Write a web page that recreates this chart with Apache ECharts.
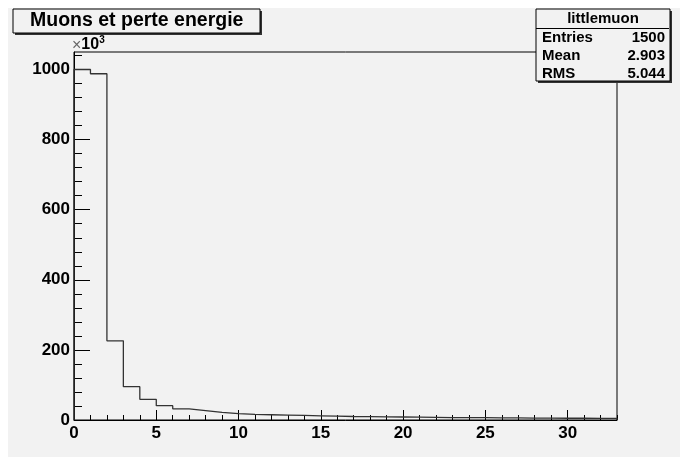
<!DOCTYPE html>
<html>
<head>
<meta charset="utf-8">
<script src="https://cdn.jsdelivr.net/npm/echarts@6/dist/echarts.min.js"></script>
<style>
html,body{margin:0;padding:0;background:#f2f2f2;}
#c{width:680px;height:457px;}
</style>
</head>
<body>
<div id="c"></div>
<script>
// Histogram "littlemuon" — bin contents in units of 10^3, bins of width 1 starting at 0
const binStart = 0;
const binWidth = 1;
const binCounts = [1000, 988, 226, 95, 59, 41, 32, 27, 22, 18, 16, 15, 14, 13, 12, 11, 10, 9.5, 9, 8.5, 8, 7.5, 7, 7, 6.5, 6, 6, 5.5, 5.5, 5, 5, 4.5, 4.5];
const xMajorTicks = [0, 5, 10, 15, 20, 25, 30];
const yMajorTicks = [0, 200, 400, 600, 800, 1000];
const xRange = [0, 33];
const yRange = [0, 1050];
const titleText = 'Muons et perte energie';
const statsName = 'littlemuon';
const statsLabels = ['Entries', 'Mean', 'RMS'];
const statsValues = ['1500', '2.903', '5.044'];

const xMinorTicks = [];
for (let v = xRange[0]; v <= xRange[1]; v += 1) xMinorTicks.push(v);
const yMinorTicks = [];
for (let v = yRange[0]; v <= yRange[1]; v += 40) yMinorTicks.push(v);

const histData = [[binStart, 0]];
binCounts.forEach((c, i) => histData.push([binStart + i * binWidth, c]));
const xEnd = binStart + binCounts.length * binWidth;
histData.push([xEnd, binCounts[binCounts.length - 1]]);
histData.push([xEnd, 0]);

const FONT = '"Liberation Sans", Arial, sans-serif';
const chart = echarts.init(document.getElementById('c'), null, {renderer: 'canvas'});

const statsGraphics = [];
statsLabels.forEach((lab, i) => {
  statsGraphics.push({type: 'text', x: 542, y: 38 + i * 18,
    style: {text: lab, font: 'bold 15px ' + FONT, fill: '#000', textAlign: 'left', textVerticalAlign: 'middle'}});
  statsGraphics.push({type: 'text', x: 665, y: 38 + i * 18,
    style: {text: statsValues[i], font: 'bold 15px ' + FONT, fill: '#000', textAlign: 'right', textVerticalAlign: 'middle'}});
});

chart.setOption({
  animation: false,
  backgroundColor: '#f2f2f2',
  grid: {left: 74, top: 52, right: 63, bottom: 37, show: true, borderColor: '#000', borderWidth: 1, backgroundColor: 'transparent'},
  xAxis: [
    {type: 'value', min: xRange[0], max: xRange[1], position: 'bottom',
     axisLine: {show: true, lineStyle: {color: '#000', width: 1}},
     axisTick: {show: true, inside: true, length: 10, customValues: xMajorTicks, lineStyle: {color: '#000'}},
     axisLabel: {show: true, customValues: xMajorTicks, margin: 5, color: '#000', fontSize: 17, fontWeight: 'bold', fontFamily: FONT, formatter: v => String(v)},
     splitLine: {show: false}},
    {type: 'value', min: xRange[0], max: xRange[1], position: 'bottom',
     axisLine: {show: false},
     axisTick: {show: true, inside: true, length: 5, customValues: xMinorTicks, lineStyle: {color: '#000'}},
     axisLabel: {show: false}, splitLine: {show: false}}
  ],
  yAxis: [
    {type: 'value', min: yRange[0], max: yRange[1], position: 'left',
     axisLine: {show: true, lineStyle: {color: '#000', width: 1}},
     axisTick: {show: true, inside: true, length: 16, customValues: yMajorTicks, lineStyle: {color: '#000'}},
     axisLabel: {show: true, customValues: yMajorTicks, margin: 4, color: '#000', fontSize: 17, fontWeight: 'bold', fontFamily: FONT, formatter: v => String(v)},
     splitLine: {show: false}},
    {type: 'value', min: yRange[0], max: yRange[1], position: 'left',
     axisLine: {show: false},
     axisTick: {show: true, inside: true, length: 8, customValues: yMinorTicks, lineStyle: {color: '#000'}},
     axisLabel: {show: false}, splitLine: {show: false}}
  ],
  series: [{
    type: 'line', step: 'end', xAxisIndex: 0, yAxisIndex: 0,
    data: histData, showSymbol: false, symbol: 'none',
    lineStyle: {color: '#333', width: 1.3}
  }],
  graphic: [
    {type: 'rect', left: 0, top: 0, shape: {width: 680, height: 8}, style: {fill: '#fff'}, z: 100},
    {type: 'rect', left: 0, top: 0, shape: {width: 8, height: 457}, style: {fill: '#fff'}, z: 100},
    // title box
    {type: 'rect', left: 15, top: 11, shape: {width: 247, height: 24}, style: {fill: '#333'}, z: 100},
    {type: 'rect', left: 12.5, top: 8.5, shape: {width: 247, height: 24}, style: {fill: '#f2f2f2', stroke: '#000', lineWidth: 1}, z: 101},
    {type: 'text', x: 30, y: 21, style: {text: titleText, font: 'bold 19.5px ' + FONT, fill: '#000', textVerticalAlign: 'middle'}, z: 102},
    // x10^3
    {type: 'text', left: 72, top: 35, z: 102, style: {
      text: '{a|×}{b|10}{c|3}',
      rich: {a: {font: '16px ' + FONT, fill: '#666', padding: [2, 0, 0, 0]}, b: {font: 'bold 16px ' + FONT, fill: '#000'}, c: {font: 'bold 10px ' + FONT, fill: '#000', padding: [0, 0, 9, 0]}}
    }},
    // stats box
    {type: 'rect', left: 538, top: 11, shape: {width: 134, height: 72}, style: {fill: '#333'}, z: 100},
    {type: 'rect', left: 535.5, top: 8.5, shape: {width: 134, height: 72}, style: {fill: '#f2f2f2', stroke: '#000', lineWidth: 1}, z: 101},
    {type: 'line', shape: {x1: 536, y1: 28.5, x2: 669, y2: 28.5}, style: {stroke: '#000', lineWidth: 1}, z: 102},
    {type: 'text', x: 603, y: 18.5, style: {text: statsName, font: 'bold 15px ' + FONT, fill: '#000', textAlign: 'center', textVerticalAlign: 'middle'}, z: 102}
  ].concat(statsGraphics.map(g => Object.assign(g, {z: 102})))
});
</script>
</body>
</html>
